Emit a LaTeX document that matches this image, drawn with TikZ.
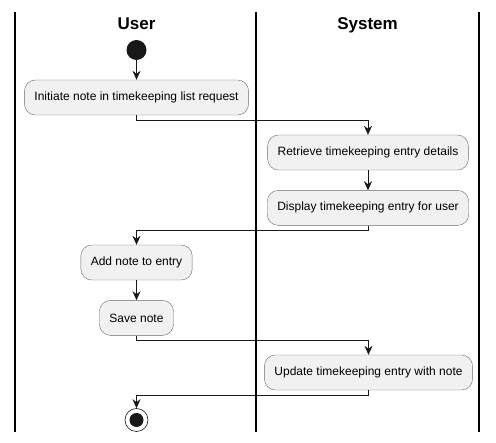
\documentclass[tikz,border=0pt]{standalone}
\usepackage{fontspec}
\setmainfont{Liberation Sans}
\usetikzlibrary{arrows.meta, positioning}
\definecolor{boxfill}{RGB}{241,241,241}
\definecolor{linedark}{RGB}{24,24,24}

\begin{document}
\begin{tikzpicture}[x=1pt, y=-1pt,
        act/.style={rectangle, draw=linedark!65, fill=boxfill, rounded corners=11pt, minimum height=35pt, inner xsep=10pt, font=\fontsize{12}{14}\selectfont},
        flow/.style={-{Stealth[length=9pt, width=8pt, inset=3pt]}, linedark, semithick},
        lane/.style={line width=1.2pt, black},
        lanetitle/.style={anchor=base, font=\bfseries\fontsize{17}{20}\selectfont}
    ]
        \useasboundingbox (0,0) rectangle (496,443);
        % swimlanes
        \draw[lane] (15,12) -- (15,432);
        \draw[lane] (256,12) -- (256,432);
        \draw[lane] (479,12) -- (479,432);
        \node[lanetitle] (usertitle) at (136.5,30) {User};
        \node[lanetitle] (systemtitle) at (367.5,30) {System};

        \node[circle, fill=linedark, minimum size=20pt, inner sep=0pt] (start) at (136.5,50) {};
        \node[act] (initiate) at (136.5,97.5) {Initiate note in timekeeping list request};
        \node[act] (retrieve) at (368,152.5) {Retrieve timekeeping entry details};
        \node[act, below=20pt of retrieve] (display) {Display timekeeping entry for user};
        \node[act] (addnote) at (136.5,262.5) {Add note to entry};
        \node[act, below=20pt of addnote] (save) {Save note};
        \node[act] (update) at (368.5,372.5) {Update timekeeping entry with note};
        \node[circle, draw=linedark, fill=white, semithick, minimum size=23pt, inner sep=0pt] (stop) at (136.5,420) {};
        \node[circle, fill=linedark, minimum size=14pt, inner sep=0pt] (stopdot) at (stop) {};

        \draw[flow] (start) -- (initiate);
        \draw[flow] (initiate.south) -- ++(0,5) -| (retrieve.north);
        \draw[flow] (retrieve) -- (display);
        \draw[flow] (display.south) -- ++(0,5) -| (addnote.north);
        \draw[flow] (addnote) -- (save);
        \draw[flow] (save.south) -- ++(0,5) -| (update.north);
        \draw[flow] (update.south) -- ++(0,5) -| (stop.north);
    \end{tikzpicture}
\end{document}
